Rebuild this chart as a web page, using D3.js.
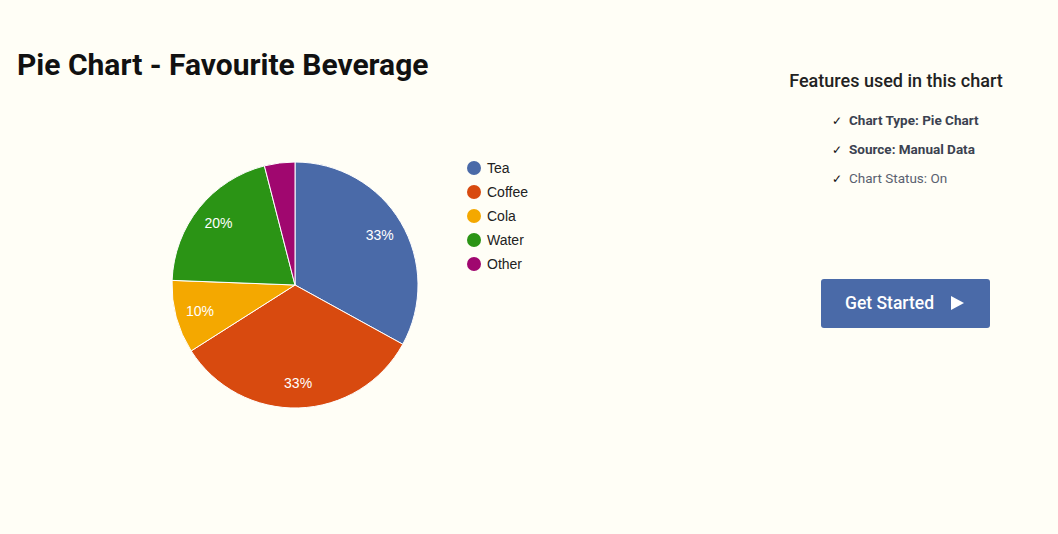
<!DOCTYPE html>
<html><head><meta charset="utf-8">
<script src="https://cdn.jsdelivr.net/npm/d3@7"></script>
<style>
body{margin:0;background:#fffef6;font-family:Roboto,sans-serif;}
svg{display:block;}
</style></head>
<body><svg id="chart" width="1058" height="534"></svg>
<script>
const categories = ["Tea", "Coffee", "Cola", "Water", "Other"];
const values = [33, 33, 9.6, 20.4, 4];
const colors = ["#4a6aa8", "#d84a0f", "#f4a800", "#2b9415", "#a0076f"];
const features = [
    {text: "Chart Type: Pie Chart", bold: true},
    {text: "Source: Manual Data", bold: true},
    {text: "Chart Status: On", bold: false}
];

const svg = d3.select("#chart");

svg.append("text").attr("x", 17).attr("y", 75)
    .style("font-size", "30px").style("font-weight", "700").style("fill", "#111")
    .text("Pie Chart - Favourite Beverage");

const data = categories.map((c, i) => ({name: c, value: values[i], color: colors[i]}));
const total = d3.sum(values);
const radius = 123;
const pie = d3.pie().value(d => d.value).sort(null);
const arc = d3.arc().innerRadius(0).outerRadius(radius);
const labelArc = d3.arc().innerRadius(radius * 0.8).outerRadius(radius * 0.8);

const g = svg.append("g").attr("transform", "translate(295,285)");
const arcs = pie(data);
g.selectAll("path").data(arcs).enter().append("path")
    .attr("d", arc).attr("fill", d => d.data.color)
    .attr("stroke", "#fff").attr("stroke-width", 1);

g.selectAll(".lbl").data(arcs.filter(d => d.data.value / total >= 0.05)).enter().append("text")
    .attr("class", "lbl")
    .attr("transform", d => `translate(${labelArc.centroid(d)})`)
    .attr("text-anchor", "middle").attr("dy", "0.35em")
    .style("font-family", "Arial, 'Liberation Sans', sans-serif")
    .style("font-size", "14px").style("fill", "#fff")
    .text(d => Math.round(d.data.value / total * 100) + "%");

const legend = svg.append("g").attr("transform", "translate(474,168)");
const items = legend.selectAll("g").data(data).enter().append("g")
    .attr("transform", (d, i) => `translate(0,${i * 24})`);
items.append("circle").attr("r", 7).attr("fill", d => d.color);
items.append("text").attr("x", 13).attr("dy", "0.35em")
    .style("font-family", "Arial, 'Liberation Sans', sans-serif")
    .style("font-size", "14px").style("fill", "#222").text(d => d.name);

svg.append("text").attr("x", 896).attr("y", 87).attr("text-anchor", "middle")
    .style("font-size", "18px").style("font-weight", "500").style("fill", "#222").text("Features used in this chart");

const feat = svg.selectAll(".feat").data(features).enter().append("g")
    .attr("transform", (d, i) => `translate(832,${125 + i * 29})`);
feat.append("text").style("font-size", "12px").style("fill", "#111").text("\u2713");
feat.append("text").attr("x", 17)
    .style("font-size", "13.5px")
    .style("font-weight", d => d.bold ? "700" : "400")
    .style("fill", d => d.bold ? "#3b4250" : "#5a6170")
    .text(d => d.text);

const btn = svg.append("g").attr("transform", "translate(821,279)");
btn.append("rect").attr("width", 169).attr("height", 49).attr("rx", 3).attr("fill", "#4a6aa8");
btn.append("text").attr("x", 24).attr("y", 30)
    .style("font-size", "17.5px").style("font-weight", "500").style("fill", "#fff").text("Get Started");
btn.append("path").attr("d", "M130,17 L143,24 L130,31 Z").attr("fill", "#fff");
</script>
</body></html>
